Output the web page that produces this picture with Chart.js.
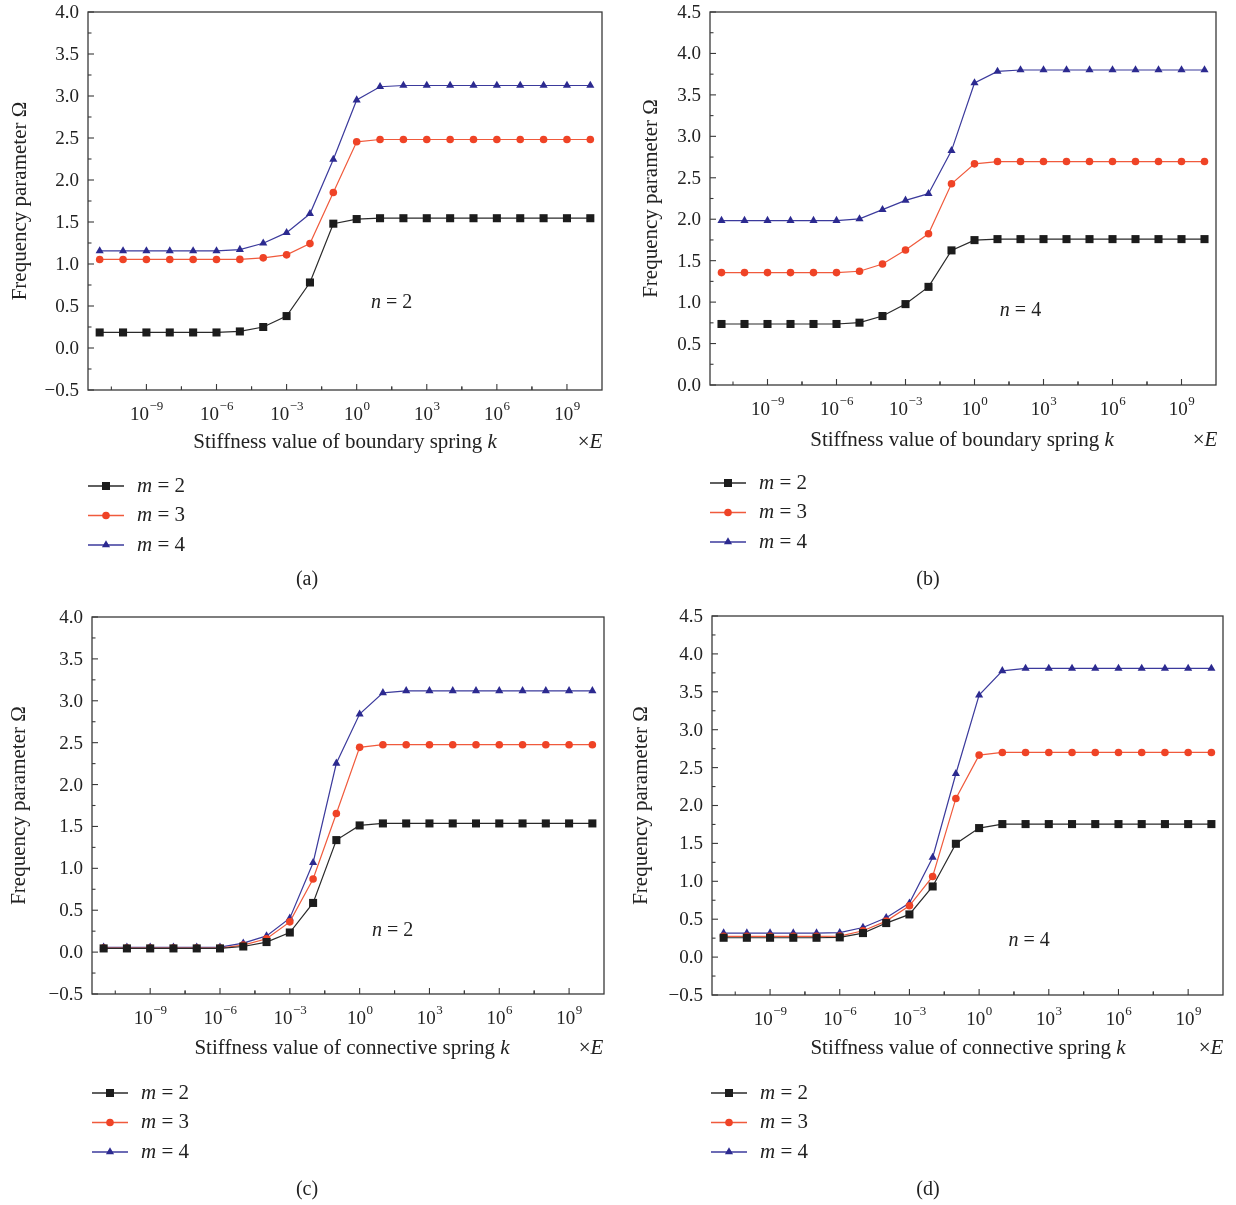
<!DOCTYPE html>
<html>
<head>
<meta charset="utf-8">
<script src="https://cdn.jsdelivr.net/npm/chart.js@4.4.1/dist/chart.umd.min.js"></script>
<style>
  body { margin: 0; background: #fff; }
  canvas { position: absolute; left: 0; top: 0; }
</style>
</head>
<body>
<canvas id="chartA" width="1236" height="1205"></canvas>
<canvas id="chartB" width="1236" height="1205"></canvas>
<canvas id="chartC" width="1236" height="1205"></canvas>
<canvas id="chartD" width="1236" height="1205"></canvas>
<script>
// stiffness values k (x E), one point per decade
const kValues = [1e-11, 1e-10, 1e-9, 1e-8, 1e-7, 1e-6, 1e-5, 1e-4, 1e-3, 1e-2, 1e-1,
  1e0, 1e1, 1e2, 1e3, 1e4, 1e5, 1e6, 1e7, 1e8, 1e9, 1e10];
const xTickExponents = [-9, -6, -3, 0, 3, 6, 9];
const seriesLabels = ["m = 2", "m = 3", "m = 4"];

// (a) boundary spring, n = 2
const boundaryN2M2 = [0.185, 0.185, 0.185, 0.185, 0.185, 0.185, 0.197, 0.25, 0.38, 0.78, 1.48,
  1.535, 1.545, 1.545, 1.545, 1.545, 1.545, 1.545, 1.545, 1.545, 1.545, 1.545];
const boundaryN2M3 = [1.054, 1.054, 1.054, 1.054, 1.054, 1.054, 1.055, 1.073, 1.109, 1.243, 1.851,
  2.455, 2.482, 2.482, 2.482, 2.482, 2.482, 2.482, 2.482, 2.482, 2.482, 2.482];
const boundaryN2M4 = [1.156, 1.156, 1.156, 1.156, 1.156, 1.156, 1.172, 1.247, 1.373, 1.598, 2.245,
  2.952, 3.11, 3.125, 3.125, 3.125, 3.125, 3.125, 3.125, 3.125, 3.125, 3.125];

// (b) boundary spring, n = 4
const boundaryN4M2 = [0.736, 0.736, 0.736, 0.736, 0.736, 0.736, 0.752, 0.832, 0.976, 1.184, 1.624,
  1.748, 1.76, 1.76, 1.76, 1.76, 1.76, 1.76, 1.76, 1.76, 1.76, 1.76];
const boundaryN4M3 = [1.356, 1.356, 1.356, 1.356, 1.356, 1.356, 1.372, 1.46, 1.628, 1.824, 2.428,
  2.668, 2.696, 2.696, 2.696, 2.696, 2.696, 2.696, 2.696, 2.696, 2.696, 2.696];
const boundaryN4M4 = [1.984, 1.984, 1.984, 1.984, 1.984, 1.984, 2.004, 2.116, 2.228, 2.308, 2.828,
  3.644, 3.784, 3.80, 3.80, 3.80, 3.80, 3.80, 3.80, 3.80, 3.80, 3.80];

// (c) connective spring, n = 2
const connectN2M2 = [0.044, 0.044, 0.044, 0.044, 0.044, 0.044, 0.067, 0.12, 0.234, 0.587, 1.337,
  1.512, 1.536, 1.536, 1.536, 1.536, 1.536, 1.536, 1.536, 1.536, 1.536, 1.536];
const connectN2M3 = [0.048, 0.048, 0.048, 0.048, 0.048, 0.048, 0.083, 0.159, 0.361, 0.873, 1.655,
  2.444, 2.476, 2.476, 2.476, 2.476, 2.476, 2.476, 2.476, 2.476, 2.476, 2.476];
const connectN2M4 = [0.058, 0.058, 0.058, 0.058, 0.058, 0.06, 0.107, 0.194, 0.405, 1.067, 2.254,
  2.841, 3.095, 3.119, 3.119, 3.119, 3.119, 3.119, 3.119, 3.119, 3.119, 3.119];

// (d) connective spring, n = 4
const connectN4M2 = [0.255, 0.255, 0.255, 0.255, 0.255, 0.26, 0.317, 0.449, 0.563, 0.932, 1.495,
  1.702, 1.755, 1.755, 1.755, 1.755, 1.755, 1.755, 1.755, 1.755, 1.755, 1.755];
const connectN4M3 = [0.273, 0.273, 0.273, 0.273, 0.273, 0.278, 0.347, 0.475, 0.677, 1.064, 2.093,
  2.665, 2.70, 2.70, 2.70, 2.70, 2.70, 2.70, 2.70, 2.70, 2.70, 2.70];
const connectN4M4 = [0.317, 0.317, 0.317, 0.317, 0.317, 0.322, 0.391, 0.519, 0.712, 1.315, 2.419,
  3.456, 3.777, 3.808, 3.808, 3.808, 3.808, 3.808, 3.808, 3.808, 3.808, 3.808];

const yTicksLow = [-0.5, 0, 0.5, 1, 1.5, 2, 2.5, 3, 3.5, 4];
const yTicksB = [0, 0.5, 1, 1.5, 2, 2.5, 3, 3.5, 4, 4.5];
const yTicksD = [-0.5, 0, 0.5, 1, 1.5, 2, 2.5, 3, 3.5, 4, 4.5];

const colors = ["#1c1c1c", "#ef4326", "#2c2a90"];
const lineColors = ["#2a2a2a", "#f05a3c", "#3b3a9c"];
const pointStyles = ["rect", "circle", "triangle"];
const pointSizes = [5.7, 3.8, 4.7];
const SERIF = "'Liberation Serif', 'DejaVu Serif', serif";
const axisColor = "#3a3a3a";

const panels = [
  {
    id: "chartA", series: [boundaryN2M2, boundaryN2M3, boundaryN2M4], yTicks: yTicksLow,
    area: [88, 12, 602, 390], spring: "boundary", n: "2", nAt: [Math.pow(10, 1.5), 0.54],
    yTitleX: 20, xTitle: [345, 442], timesE: 590, legend: [88, 486], caption: ["(a)", 307, 580]
  },
  {
    id: "chartB", series: [boundaryN4M2, boundaryN4M3, boundaryN4M4], yTicks: yTicksB,
    area: [710, 12, 1216, 385], spring: "boundary", n: "4", nAt: [Math.pow(10, 2), 0.89],
    yTitleX: 651, xTitle: [962, 440], timesE: 1205, legend: [710, 483], caption: ["(b)", 928, 580]
  },
  {
    id: "chartC", series: [connectN2M2, connectN2M3, connectN2M4], yTicks: yTicksLow,
    area: [92, 617, 604, 994], spring: "connective", n: "2", nAt: [Math.pow(10, 1.42), 0.26],
    yTitleX: 19, xTitle: [352, 1048], timesE: 591, legend: [92, 1093], caption: ["(c)", 307, 1190]
  },
  {
    id: "chartD", series: [connectN4M2, connectN4M3, connectN4M4], yTicks: yTicksD,
    area: [712, 616, 1223, 995], spring: "connective", n: "4", nAt: [Math.pow(10, 2.15), 0.22],
    yTitleX: 641, xTitle: [968, 1048], timesE: 1211, legend: [711, 1093], caption: ["(d)", 928, 1190]
  }
];

function fmtTick(v) {
  return v.toFixed(1).replace("-", "\u2212");
}

// draw text runs like [["m", true], [" = 2", false]] (true = italic)
function drawRuns(ctx, runs, x, y, size, align) {
  const fonts = runs.map(r => (r[1] ? "italic " : "") + size + "px " + SERIF);
  let total = 0;
  runs.forEach((r, i) => { ctx.font = fonts[i]; total += ctx.measureText(r[0]).width; });
  let cx = align === "center" ? x - total / 2 : x;
  ctx.textAlign = "left";
  runs.forEach((r, i) => {
    ctx.font = fonts[i];
    ctx.fillText(r[0], cx, y);
    cx += ctx.measureText(r[0]).width;
  });
}

const framePlugin = {
  id: "frame",
  afterDraw(chart, args, opts) {
    const p = opts.panel;
    const ctx = chart.ctx;
    const { left, top, right, bottom } = chart.chartArea;
    const xs = chart.scales.x, ys = chart.scales.y;
    ctx.save();
    ctx.strokeStyle = axisColor;
    ctx.fillStyle = "#222";
    ctx.lineWidth = 1.3;
    ctx.strokeRect(left, top, right - left, bottom - top);

    // y ticks (inward) and labels
    ctx.lineWidth = 1.1;
    ctx.textBaseline = "middle";
    ctx.textAlign = "right";
    ctx.font = "19px " + SERIF;
    p.yTicks.forEach((v, i) => {
      const y = ys.getPixelForValue(v);
      ctx.beginPath(); ctx.moveTo(left, y); ctx.lineTo(left + 6, y); ctx.stroke();
      ctx.fillText(fmtTick(v), left - 9, y + 1);
      if (i < p.yTicks.length - 1) {
        const ym = ys.getPixelForValue((v + p.yTicks[i + 1]) / 2);
        ctx.beginPath(); ctx.moveTo(left, ym); ctx.lineTo(left + 3.5, ym); ctx.stroke();
      }
    });

    // x ticks (inward) and 10^n labels
    xTickExponents.forEach(e => {
      const x = xs.getPixelForValue(Math.pow(10, e));
      ctx.beginPath(); ctx.moveTo(x, bottom); ctx.lineTo(x, bottom - 6); ctx.stroke();
      [e - 1.5, e + 1.5].forEach(m => {
        const xm = xs.getPixelForValue(Math.pow(10, m));
        if (xm > left + 1 && xm < right - 1) {
          ctx.beginPath(); ctx.moveTo(xm, bottom); ctx.lineTo(xm, bottom - 3.5); ctx.stroke();
        }
      });
      const base = "10", exp = String(e).replace("-", "\u2212");
      ctx.font = "19px " + SERIF;
      const wb = ctx.measureText(base).width;
      ctx.font = "13px " + SERIF;
      const we = ctx.measureText(exp).width;
      const x0 = x - (wb + we) / 2;
      ctx.textAlign = "left";
      ctx.textBaseline = "alphabetic";
      ctx.font = "19px " + SERIF;
      ctx.fillText(base, x0, bottom + 30);
      ctx.font = "13px " + SERIF;
      ctx.fillText(exp, x0 + wb + 0.5, bottom + 20);
    });

    // axis titles
    ctx.textBaseline = "middle";
    drawRuns(ctx, [["Stiffness value of " + p.spring + " spring ", false], ["k", true]],
      p.xTitle[0], p.xTitle[1], 21, "center");
    drawRuns(ctx, [["\u00d7", false], ["E", true]], p.timesE, p.xTitle[1], 21, "center");
    ctx.save();
    ctx.translate(p.yTitleX, (top + bottom) / 2);
    ctx.rotate(-Math.PI / 2);
    drawRuns(ctx, [["Frequency parameter \u03a9", false]], 0, 0, 21, "center");
    ctx.restore();

    // n annotation
    drawRuns(ctx, [["n", true], [" = " + p.n, false]],
      xs.getPixelForValue(p.nAt[0]), ys.getPixelForValue(p.nAt[1]), 20, "center");

    // legend
    chart.data.datasets.forEach((ds, i) => {
      const lx = p.legend[0], ly = p.legend[1] + i * 29.5;
      ctx.strokeStyle = ds.borderColor;
      ctx.lineWidth = 1.3;
      ctx.beginPath(); ctx.moveTo(lx, ly); ctx.lineTo(lx + 36, ly); ctx.stroke();
      ctx.fillStyle = ds.pointBackgroundColor;
      Chart.helpers.drawPoint(ctx, {
        pointStyle: ds.pointStyle, radius: ds.pointRadius, borderWidth: 0, rotation: 0
      }, lx + 18, ly);
      ctx.fillStyle = "#222";
      ctx.textBaseline = "middle";
      drawRuns(ctx, [["m", true], [ds.label.slice(1), false]], lx + 49, ly, 21, "left");
    });

    // caption
    ctx.fillStyle = "#222";
    drawRuns(ctx, [[p.caption[0], false]], p.caption[1], p.caption[2], 20, "center");
    ctx.restore();
  }
};

panels.forEach(p => {
  const [l, t, r, b] = p.area;
  new Chart(document.getElementById(p.id), {
    type: "line",
    data: {
      labels: kValues,
      datasets: p.series.map((vals, i) => ({
        label: seriesLabels[i],
        data: kValues.map((k, j) => ({ x: k, y: vals[j] })),
        borderColor: lineColors[i],
        borderWidth: 1.2,
        pointStyle: pointStyles[i],
        pointRadius: pointSizes[i],
        pointBorderWidth: 0,
        pointBackgroundColor: colors[i],
        tension: 0,
        fill: false
      }))
    },
    options: {
      responsive: false,
      animation: false,
      events: [],
      layout: { padding: { left: l, top: t, right: 1236 - r, bottom: 1205 - b } },
      scales: {
        x: { type: "logarithmic", display: false, bounds: "data",
          min: Math.pow(10, -11.5), max: Math.pow(10, 10.5) },
        y: { type: "linear", display: false, bounds: "data",
          min: p.yTicks[0], max: p.yTicks[p.yTicks.length - 1] }
      },
      plugins: {
        legend: { display: false },
        tooltip: { enabled: false },
        frame: { panel: p }
      }
    },
    plugins: [framePlugin]
  });
});
</script>
</body>
</html>
